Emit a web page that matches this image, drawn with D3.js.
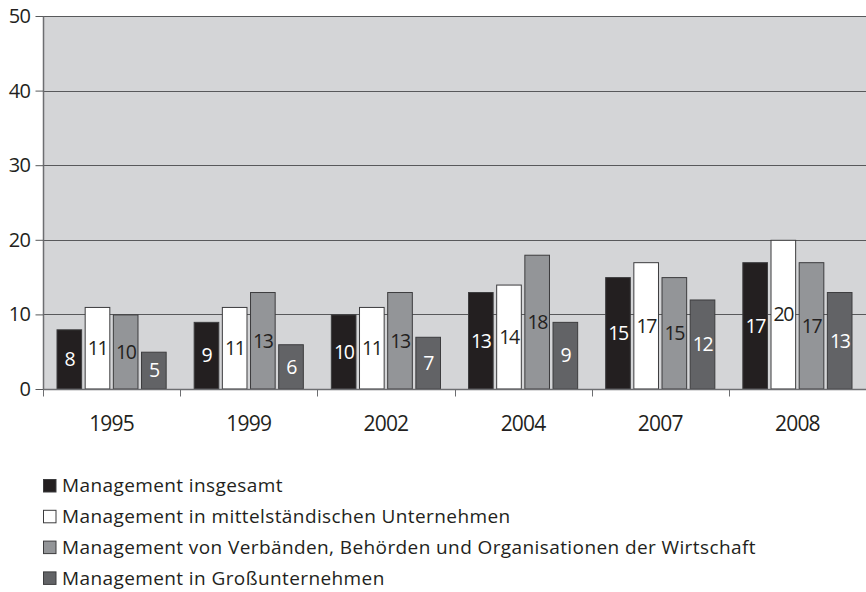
<!DOCTYPE html>
<html>
<head>
<meta charset="utf-8">
<script src="https://cdn.jsdelivr.net/npm/d3@7"></script>
<style>
  html, body { margin: 0; padding: 0; background: #fff; }
  svg { display: block; }
  text { font-family: "Open Sans", "Noto Sans", sans-serif; }
</style>
</head>
<body>
<svg id="chart" width="866" height="592"></svg>
<script>
// Jahre und Anteile (in Prozent) je Managementgruppe
const years = ["1995", "1999", "2002", "2004", "2007", "2008"];
const seriesNames = [
  "Management insgesamt",
  "Management in mittelständischen Unternehmen",
  "Management von Verbänden, Behörden und Organisationen der Wirtschaft",
  "Management in Großunternehmen"
];
const insgesamt      = [8, 9, 10, 13, 15, 17];
const mittelstand    = [11, 11, 11, 14, 17, 20];
const verbaende      = [10, 13, 13, 18, 15, 17];
const grossunternehm = [5, 6, 7, 9, 12, 13];
const yTicks = [0, 10, 20, 30, 40, 50];

const seriesValues = [insgesamt, mittelstand, verbaende, grossunternehm];
const fills = ["#231f20", "#ffffff", "#939598", "#626366"];
const labelColors = ["#ffffff", "#231f20", "#231f20", "#ffffff"];

const svg = d3.select("#chart");
const margin = { left: 43, right: 0, top: 16, bottom: 203 };
const W = 866, H = 592;
const plotW = W - margin.left - margin.right;
const plotH = H - margin.top - margin.bottom;

const x0 = d3.scaleBand().domain(years).range([0, plotW]).paddingInner(0).paddingOuter(0);
const x1 = d3.scaleBand().domain(d3.range(4)).range([13.5, x0.bandwidth() - 13.5]).paddingInner(0.09).paddingOuter(0);
const y = d3.scaleLinear().domain([0, 50]).range([plotH, 0]);

const g = svg.append("g").attr("transform", `translate(${margin.left},${margin.top})`);

// Hintergrund der Zeichenfläche
g.append("rect").attr("x", 0).attr("y", 0).attr("width", plotW).attr("height", plotH).attr("fill", "#d4d5d7");

// Gitterlinien
g.selectAll("line.grid").data(yTicks.filter(d => d > 0)).join("line")
  .attr("class", "grid")
  .attr("x1", 0).attr("x2", plotW)
  .attr("y1", d => Math.round(y(d)) + 0.5).attr("y2", d => Math.round(y(d)) + 0.5)
  .attr("stroke", "#58595b").attr("stroke-width", 1.1);

// Balken
const rows = [];
years.forEach((yr, i) => {
  seriesValues.forEach((vals, s) => rows.push({ year: yr, s, v: vals[i] }));
});

const bars = g.append("g");
bars.selectAll("rect").data(rows).join("rect")
  .attr("x", d => x0(d.year) + x1(d.s) + 0.5)
  .attr("y", d => y(d.v) + 0.5)
  .attr("width", x1.bandwidth() - 1)
  .attr("height", d => y(0) - y(d.v) - 0.5)
  .attr("fill", d => fills[d.s])
  .attr("stroke", "#3c3c3e").attr("stroke-width", 1);

// Wertbeschriftungen in der Balkenmitte
bars.selectAll("text").data(rows).join("text")
  .attr("x", d => x0(d.year) + x1(d.s) + x1.bandwidth() / 2)
  .attr("y", d => (y(d.v) + y(0)) / 2)
  .attr("dy", "0.36em")
  .attr("text-anchor", "middle")
  .attr("font-size", 19.5)
  .attr("letter-spacing", "-1.4px")
  .attr("fill", d => labelColors[d.s])
  .text(d => d.v);

// y-Achse
const yAxis = d3.axisLeft(y).tickValues(yTicks).tickSize(8).tickPadding(5);
const ya = g.append("g").attr("transform", "translate(0.5,0)").call(yAxis);
ya.select(".domain").attr("stroke", "#6d6e71").attr("stroke-width", 1.5).attr("d", `M0,0V${plotH}`);
ya.selectAll(".tick line").attr("stroke", "#58595b");
ya.selectAll(".tick text").attr("font-size", 20).attr("fill", "#231f20")
  .attr("letter-spacing", "-0.5px")
  .attr("font-family", "'Open Sans', 'Noto Sans', sans-serif");

// x-Achse
const xa = g.append("g").attr("transform", `translate(0,${plotH + 0.5})`);
xa.append("line").attr("x1", 0).attr("x2", plotW).attr("stroke", "#6d6e71").attr("stroke-width", 1.5);
xa.selectAll("line.tick").data(years.slice(1).map(d => x0(d)).concat([0])).join("line")
  .attr("class", "tick")
  .attr("x1", d => Math.round(d) + 0.5).attr("x2", d => Math.round(d) + 0.5)
  .attr("y1", 0).attr("y2", 7)
  .attr("stroke", "#6d6e71");
xa.selectAll("text").data(years).join("text")
  .attr("x", d => x0(d) + x0.bandwidth() / 2)
  .attr("y", 34)
  .attr("dy", "0.36em")
  .attr("text-anchor", "middle")
  .attr("font-size", 21)
  .attr("letter-spacing", "-0.8px")
  .attr("fill", "#231f20")
  .text(d => d);

// Legende
const legend = svg.append("g").attr("transform", "translate(43,485.5)");
const li = legend.selectAll("g").data(seriesNames).join("g")
  .attr("transform", (d, i) => `translate(0,${i * 30.8})`);
li.append("rect")
  .attr("x", 0.5).attr("y", -6).attr("width", 12.5).attr("height", 12.5)
  .attr("fill", (d, i) => fills[i]).attr("stroke", "#3c3c3e").attr("stroke-width", 1);
li.append("text")
  .attr("x", 19).attr("y", 0).attr("dy", "0.36em")
  .attr("font-size", 19).attr("fill", "#231f20")
  .attr("letter-spacing", "0.4px")
  .text(d => d);
</script>
</body>
</html>
